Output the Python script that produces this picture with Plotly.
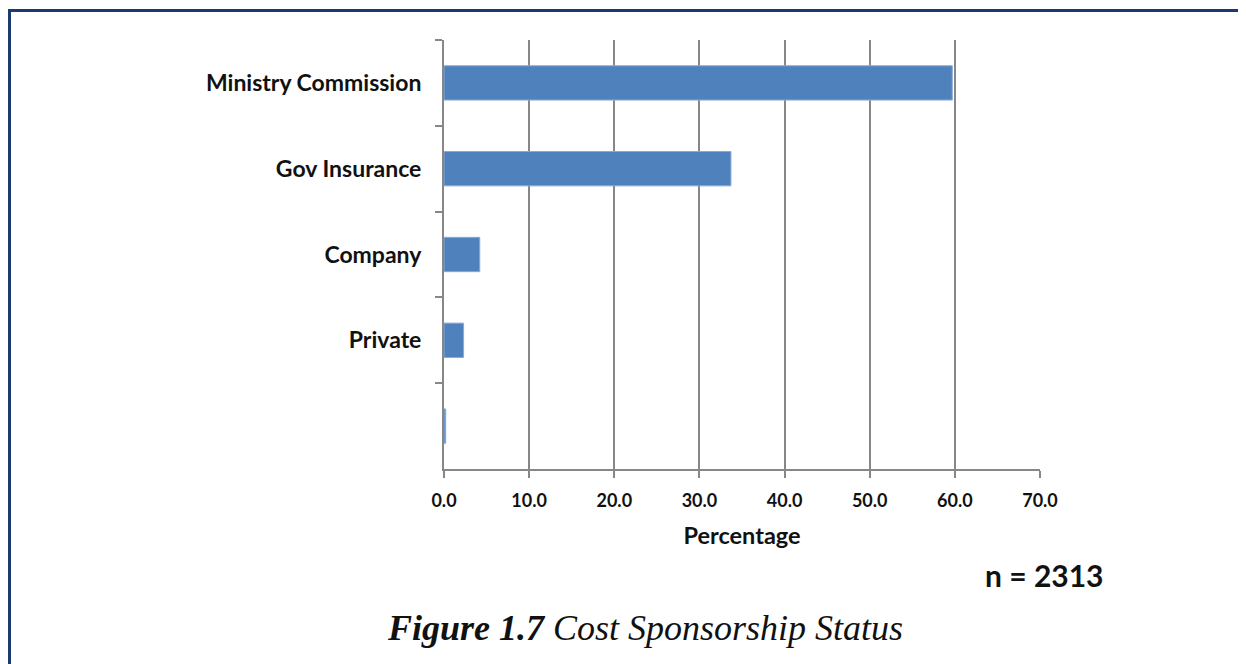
import plotly.graph_objects as go

categories = ["Ministry Commission", "Gov Insurance", "Company", "Private", " "]
percentages = [59.7, 33.7, 4.2, 2.3, 0.2]
x_ticks = [0, 10, 20, 30, 40, 50, 60, 70]
x_tick_labels = ["0.0", "10.0", "20.0", "30.0", "40.0", "50.0", "60.0", "70.0"]

GRAY = "#878787"
FONT = "Lato, 'Open Sans', sans-serif"

fig = go.Figure(
    go.Bar(
        x=percentages,
        y=categories,
        orientation="h",
        width=0.4,
        marker=dict(color="#4f81bd", line=dict(color="#8aaad6", width=1)),
        hoverinfo="x+y",
    )
)

# page is offset by the 8px default body margin
OFF = 8
W, H = 1246, 664
L, T = 444 - OFF, 40 - OFF
R = W - (1040 - OFF)
B = H - (469 - OFF)
pw, ph = W - L - R, H - T - B


def px_x(v):
    return (v - OFF - L) / pw


def px_y(v):
    return 1 - (v - OFF - T) / ph


fig.update_layout(
    width=W,
    height=H,
    margin=dict(l=L, r=R, t=T, b=B, autoexpand=False),
    paper_bgcolor="white",
    plot_bgcolor="white",
    showlegend=False,
    xaxis=dict(
        range=[0, 70],
        tickvals=x_ticks,
        ticktext=x_tick_labels,
        showgrid=True,
        gridcolor=GRAY,
        gridwidth=2,
        zeroline=False,
        showline=True,
        linecolor=GRAY,
        linewidth=2,
        ticks="outside",
        ticklen=7,
        tickwidth=2,
        tickcolor=GRAY,
        ticklabelstandoff=7,
        tickfont=dict(family=FONT, size=18, color="#111111", weight="bold"),
        title=dict(
            text="<b>Percentage</b>",
            font=dict(family=FONT, size=23.5, color="#111111"),
            standoff=18,
        ),
        fixedrange=True,
    ),
    yaxis=dict(
        type="category",
        categoryorder="array",
        categoryarray=categories,
        autorange="reversed",
        showgrid=False,
        zeroline=False,
        showline=True,
        linecolor=GRAY,
        linewidth=2,
        ticks="outside",
        tickson="boundaries",
        ticklen=7,
        tickwidth=2,
        tickcolor=GRAY,
        ticklabelstandoff=16,
        tickfont=dict(family=FONT, size=23, color="#111111", weight="bold"),
        fixedrange=True,
    ),
    annotations=[
        dict(
            text="<b>n = 2313</b>",
            xref="paper",
            yref="paper",
            x=px_x(1106),
            y=px_y(575),
            xanchor="right",
            yanchor="middle",
            showarrow=False,
            font=dict(family=FONT, size=30, color="#111111"),
        ),
        dict(
            text="<b><i>Figure 1.7</i></b><i> Cost Sponsorship Status</i>",
            xref="paper",
            yref="paper",
            x=px_x(645),
            y=px_y(628),
            xanchor="center",
            yanchor="middle",
            showarrow=False,
            font=dict(family="'Liberation Serif', 'DejaVu Serif', serif", size=36, color="#111111"),
        ),
    ],
    shapes=[
        dict(
            type="path",
            xref="paper",
            yref="paper",
            path=f"M {px_x(9.5)} {px_y(700)} L {px_x(9.5)} {px_y(10.5)} L {px_x(1300)} {px_y(10.5)}",
            line=dict(color="#1b3a6e", width=3),
            layer="above",
        )
    ],
)

fig.write_html("out.html")
